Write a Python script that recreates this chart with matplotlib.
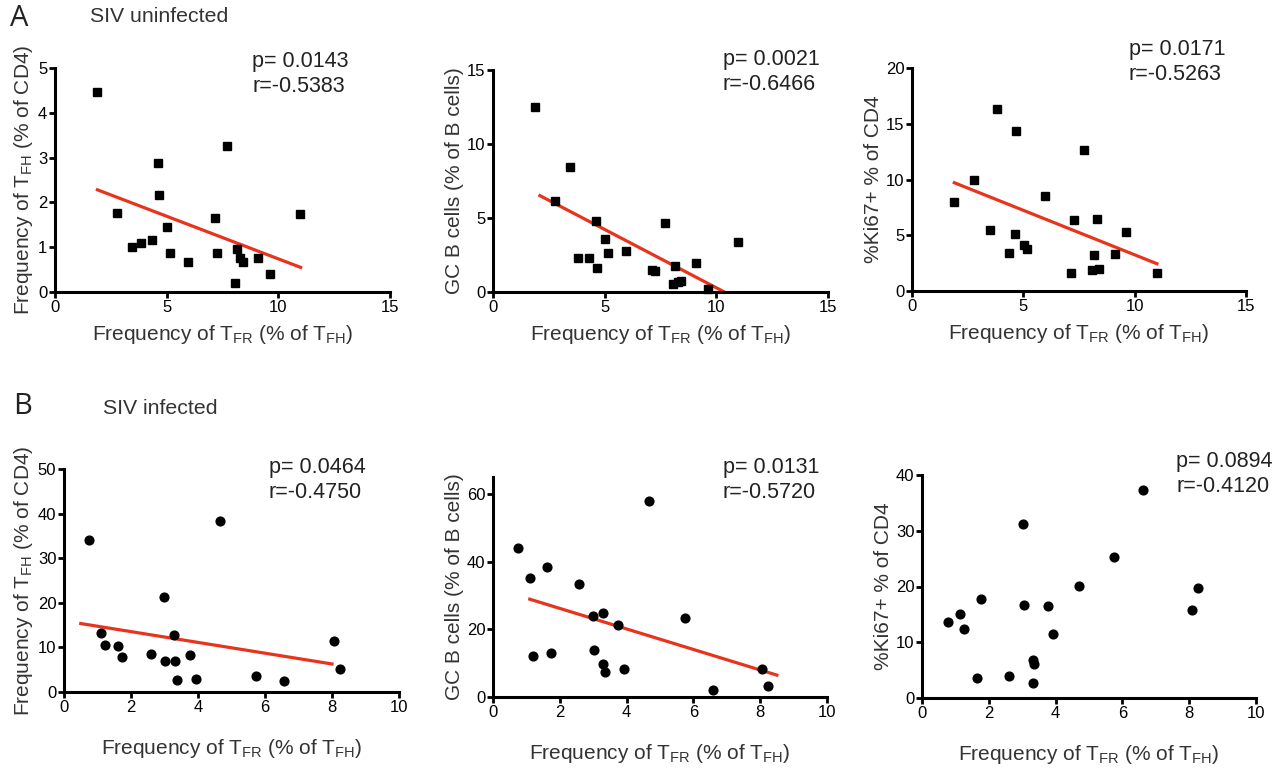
import matplotlib
matplotlib.use("Agg")
import matplotlib.pyplot as plt
import numpy as np

plt.rcParams["font.family"] = ["Liberation Sans", "DejaVu Sans"]
plt.rcParams["mathtext.fontset"] = "custom"
plt.rcParams["mathtext.rm"] = "Liberation Sans"
plt.rcParams["mathtext.it"] = "Liberation Sans"

# ---- data: SIV uninfected (panel A) ----
a_tfr = [1.87, 2.79, 3.46, 3.84, 4.33, 4.61, 4.66, 5.03, 5.15, 5.97,
         7.15, 7.25, 7.72, 8.13, 8.07, 8.27, 8.42, 9.07, 9.63, 10.97]
a_tfh = [4.46, 1.77, 1.01, 1.10, 1.16, 2.88, 2.17, 1.45, 0.86, 0.66,
         1.66, 0.86, 3.27, 0.96, 0.20, 0.75, 0.68, 0.75, 0.40, 1.75]

a2_tfr = [1.87, 2.78, 3.47, 3.81, 4.31, 4.59, 4.65, 5.01, 5.16, 5.96,
          7.13, 7.26, 7.70, 8.15, 8.04, 8.27, 8.43, 9.07, 9.61, 10.99]
a_gcb = [12.48, 6.13, 8.47, 2.31, 2.27, 4.79, 1.60, 3.55, 2.61, 2.76,
         1.48, 1.44, 4.63, 1.73, 0.56, 0.65, 0.76, 1.98, 0.22, 3.39]

a3_tfr = [1.89, 2.80, 3.49, 3.83, 4.34, 4.61, 4.67, 5.03, 5.16, 5.99,
          7.14, 7.29, 7.74, 8.16, 8.07, 8.32, 8.40, 9.12, 9.63, 10.99]
a_ki67 = [8.01, 9.99, 5.47, 16.32, 3.38, 5.14, 14.35, 4.16, 3.74, 8.49,
          1.64, 6.37, 12.65, 3.26, 1.85, 6.49, 1.94, 3.32, 5.26, 1.61]

# ---- data: SIV infected (panel B) ----
b_tfr = [0.75, 1.11, 1.22, 1.62, 1.74, 2.59, 2.99, 3.02, 3.29, 3.30,
         3.36, 3.76, 3.93, 4.66, 5.74, 6.58, 8.06, 8.24]
b_tfh = [34.18, 13.34, 10.49, 10.34, 7.87, 8.47, 21.21, 6.90, 12.67, 6.90,
         2.77, 8.40, 2.85, 38.38, 3.67, 2.47, 11.39, 5.17]

b2_tfr = [0.75, 1.10, 1.21, 1.62, 1.74, 2.57, 2.98, 3.02, 3.29, 3.28,
          3.34, 3.74, 3.91, 4.66, 5.75, 6.60, 8.05, 8.24]
b_gcb = [44.08, 35.29, 12.02, 38.32, 13.10, 33.53, 23.85, 13.78, 24.93, 9.87,
         7.53, 21.21, 8.21, 57.87, 23.36, 2.15, 8.21, 3.32]

b3_tfr = [0.77, 1.13, 1.25, 1.65, 1.76, 2.60, 3.01, 3.04, 3.31, 3.36,
          3.31, 3.77, 3.93, 4.69, 5.76, 6.61, 8.08, 8.26]
b_ki67 = [13.57, 15.07, 12.32, 3.59, 17.76, 3.95, 31.27, 16.62, 6.76, 6.10,
          2.63, 16.44, 11.54, 20.15, 25.29, 37.37, 15.78, 19.79]

# x range over which each regression line is drawn (None = no line)
fit_ranges = [(1.9, 11.0), (2.1, 10.8), (1.9, 11.0), (0.5, 8.0), (1.1, 8.5), None]

stats = [("p= 0.0143", "r=-0.5383"), ("p= 0.0021", "r=-0.6466"), ("p= 0.0171", "r=-0.5263"),
         ("p= 0.0464", "r=-0.4750"), ("p= 0.0131", "r=-0.5720"), ("p= 0.0894", "r=-0.4120")]

XLAB = r"Frequency of T$_{\mathregular{FR}}$ (% of T$_{\mathregular{FH}}$)"
YLAB_TFH = r"Frequency of T$_{\mathregular{FH}}$ (% of CD4)"
YLAB_GC = "GC B cells (% of B cells)"
YLAB_KI = "%Ki67+ % of CD4"

W, H = 1288, 768
fig = plt.figure(figsize=(W / 100, H / 100), dpi=100)


def px_axes(x0, y0, x1, y1):
    return fig.add_axes([x0 / W, 1 - y1 / H, (x1 - x0) / W, (y1 - y0) / H])


def style(ax, xmax, xstep, ymax, yticks, ylab, xpad):
    ax.set_xlim(0, xmax)
    ax.set_ylim(0, ymax)
    ax.set_xticks(np.arange(0, xmax + 0.1, xstep))
    ax.set_yticks(yticks)
    for s in ("top", "right"):
        ax.spines[s].set_visible(False)
    for s in ("left", "bottom"):
        ax.spines[s].set_linewidth(2.2)
    ax.tick_params(width=2, length=4, labelsize=12, pad=1.5, colors="black")
    ax.set_xlabel(XLAB, fontsize=15, color="#333333", labelpad=xpad)
    ax.set_ylabel(ylab, fontsize=15, color="#333333", labelpad=2)


def fit_line(ax, x, y, rng):
    k, b = np.polyfit(x, y, 1)
    xs = np.array(rng)
    ax.plot(xs, k * xs + b, color="#e8341c", lw=2.3, zorder=2)


boxes = [(55, 68, 390, 292), (493, 70, 828, 292), (912, 68, 1246, 291),
         (64, 469, 399, 692), (493, 477, 827, 697), (922, 475, 1256, 698)]
panels = [
    (a_tfr, a_tfh, "s", 15, 5, 5, [0, 1, 2, 3, 4, 5], YLAB_TFH),
    (a2_tfr, a_gcb, "s", 15, 5, 15, [0, 5, 10, 15], YLAB_GC),
    (a3_tfr, a_ki67, "s", 15, 5, 20, [0, 5, 10, 15, 20], YLAB_KI),
    (b_tfr, b_tfh, "o", 10, 2, 50, [0, 10, 20, 30, 40, 50], YLAB_TFH),
    (b2_tfr, b_gcb, "o", 10, 2, 65, [0, 20, 40, 60], YLAB_GC),
    (b3_tfr, b_ki67, "o", 10, 2, 40, [0, 10, 20, 30, 40], YLAB_KI),
]

for i, (box, p, rng) in enumerate(zip(boxes, panels, fit_ranges)):
    x, y, mk, xmax, xstep, ymax, yt, ylab = p
    ax = px_axes(*box)
    style(ax, xmax, xstep, ymax, yt, ylab, 6 if i < 3 else 16)
    ax.plot(x, y, mk, color="black", ms=5.8 if mk == "s" else 6.3,
            clip_on=False, zorder=3)
    if rng is not None:
        fit_line(ax, x, y, rng)

stat_pos = [(252, 62), (723, 60), (1129, 50), (269, 467), (723, 467), (1176, 462)]
for (sx, sy), (pt, rt) in zip(stat_pos, stats):
    fig.text(sx / W, 1 - sy / H, pt, fontsize=15.5, color="#222222", va="center")
    fig.text(sx / W, 1 - (sy + 25) / H, rt, fontsize=15.5, color="#222222", va="center")

fig.text(10 / W, 1 - 18 / H, "A", fontsize=21, family=["Open Sans", "DejaVu Sans"],
         color="#222222", va="center")
fig.text(90 / W, 1 - 16 / H, "SIV uninfected", fontsize=15.3, color="#333333", va="center")
fig.text(13 / W, 1 - 406 / H, "B", fontsize=21, family=["Open Sans", "DejaVu Sans"],
         color="#222222", va="center")
fig.text(103 / W, 1 - 408 / H, "SIV infected", fontsize=15.3, color="#333333", va="center")

fig.savefig("out.png", dpi=100)
